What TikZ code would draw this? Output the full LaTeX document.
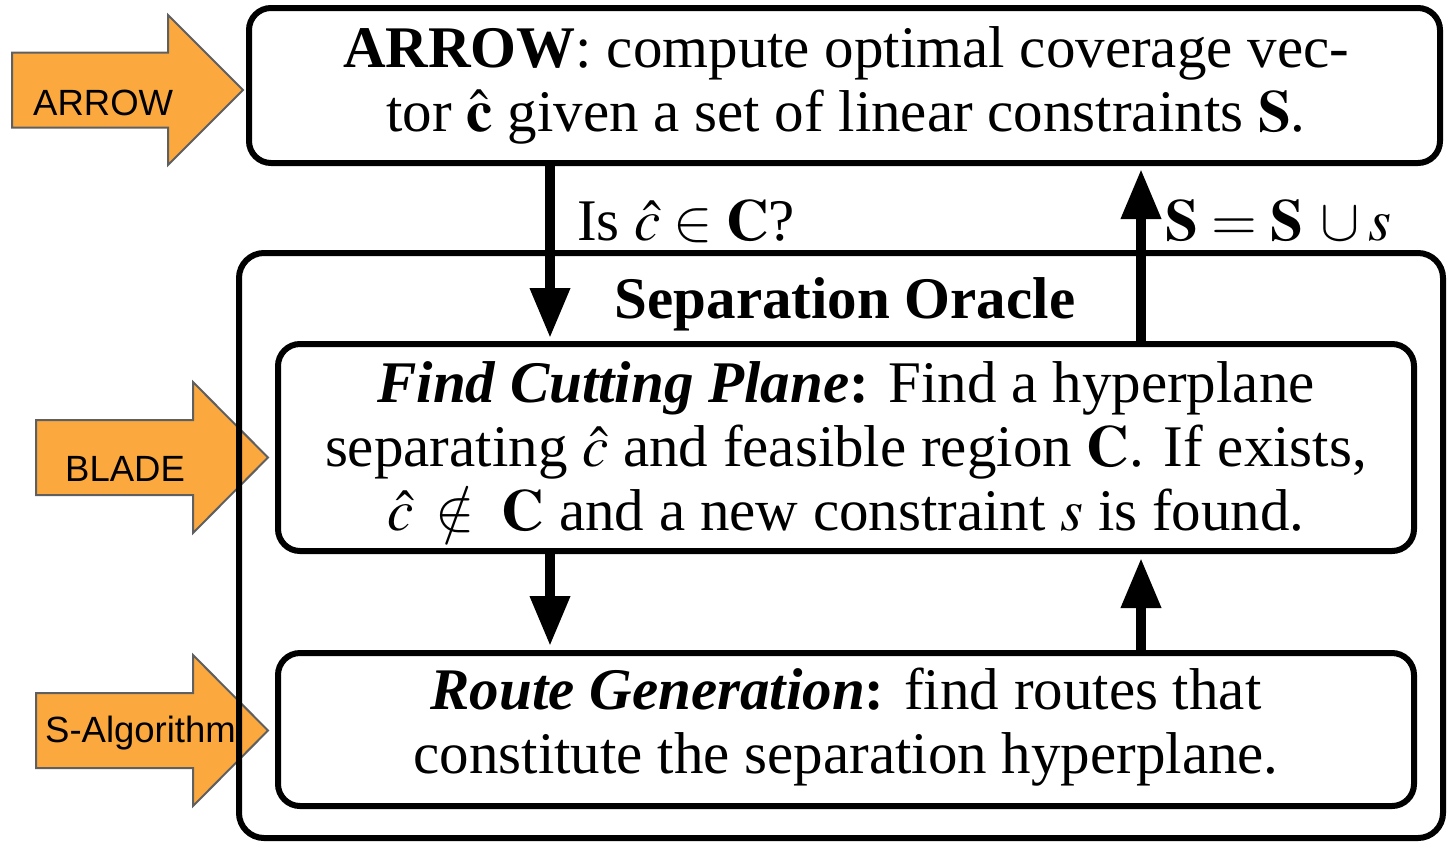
\documentclass[tikz,border=0pt]{standalone}
\usepackage{mathptmx}
\usepackage{fontspec}
\setmainfont{Liberation Serif}
\newfontfamily\sansf{Liberation Sans}
\usetikzlibrary{arrows.meta}
\definecolor{tagorange}{RGB}{251,169,63}
\definecolor{tagedge}{RGB}{95,95,95}
\tikzset{
  panel/.style={draw=black, line width=6pt, rounded corners=22pt, inner sep=0pt},
  body/.style={font=\fontsize{59}{64}\selectfont, align=center, inner sep=0pt, anchor=base},
  flow/.style={line width=10pt, -{Triangle[length=50pt,width=38pt]}},
  tag/.style={draw=tagedge, line width=2pt, fill=tagorange, line join=miter},
  tagtext/.style={font=\sansf\fontsize{36.5}{40}\selectfont, anchor=base west, inner sep=0pt},
}
\begin{document}
\begin{tikzpicture}[x=1pt,y=-1pt]
\useasboundingbox (0,0) rectangle (1447,844);

% orange pointer arrows on the left
\draw[tag] (12,52.5) -- (168,52.5) -- (168,15) -- (243,90) -- (168,165) -- (168,127.5) -- (12,127.5) -- cycle;
\draw[tag] (36,420) -- (193,420) -- (193,382) -- (268,457.5) -- (193,533) -- (193,495) -- (36,495) -- cycle;
\draw[tag] (36,693) -- (193,693) -- (193,655) -- (268,730.5) -- (193,806) -- (193,768) -- (36,768) -- cycle;
\node[tagtext] (tagA) at (33,115) {ARROW};
\node[tagtext] (tagB) at (65,481) {BLADE};
\node[tagtext] (tagS) at (45,742) {S-Algorithm};

% frames
\node[panel, minimum width=1191pt, minimum height=155pt] (top) at (844.5,85.5) {};
\node[panel, rounded corners=25pt, minimum width=1204pt, minimum height=585pt] (oracle) at (841,545.5) {};
\node[panel, minimum width=1136pt, minimum height=207pt] (fcp) at (846,447.5) {};
\node[panel, minimum width=1136pt, minimum height=153pt] (rg) at (846,729.5) {};

% texts (a multi-line node sits on the baseline of its last line)
\node[body] (toptext) at (846,131) {\textbf{ARROW}: compute optimal coverage vec-\\tor $\hat{\mathbf{c}}$ given a set of linear constraints $\mathbf{S}$.};
\node[body] (sotitle) at (845,318) {\textbf{Separation Oracle}};
\node[body] (fcptext) at (846,530) {\textbf{\textit{Find Cutting Plane}:} Find a hyperplane\\separating $\hat{c}$ and feasible region $\mathbf{C}$. If exists,\\$\hat{c}$\hspace{22pt}$\notin$\hspace{27pt}$\mathbf{C}$ and a new constraint $s$ is found.};
\node[body] (rgtext) at (846,773) {\textbf{\textit{Route Generation}:} find routes that\\constitute the separation hyperplane.};
\node[body, anchor=base west] (query) at (577,240) {Is $\hat{c}\in\mathbf{C}$?};
\node[body, anchor=base west] (update) at (1165,240) {$\mathbf{S}=\mathbf{S}\mathbin{\mkern3mu\cup}s$};

% flow arrows
\coordinate (xl) at (550,0);
\coordinate (xr) at (1141,0);
\draw[flow, shorten >=3pt] (top.south -| xl) -- (fcp.north -| xl);
\draw[flow, shorten >=3pt] (fcp.north -| xr) -- (top.south -| xr);
\draw[flow, shorten >=4pt] (fcp.south -| xl) -- (rg.north -| xl);
\draw[flow, shorten >=4pt] (rg.north -| xr) -- (fcp.south -| xr);
\end{tikzpicture}
\end{document}
